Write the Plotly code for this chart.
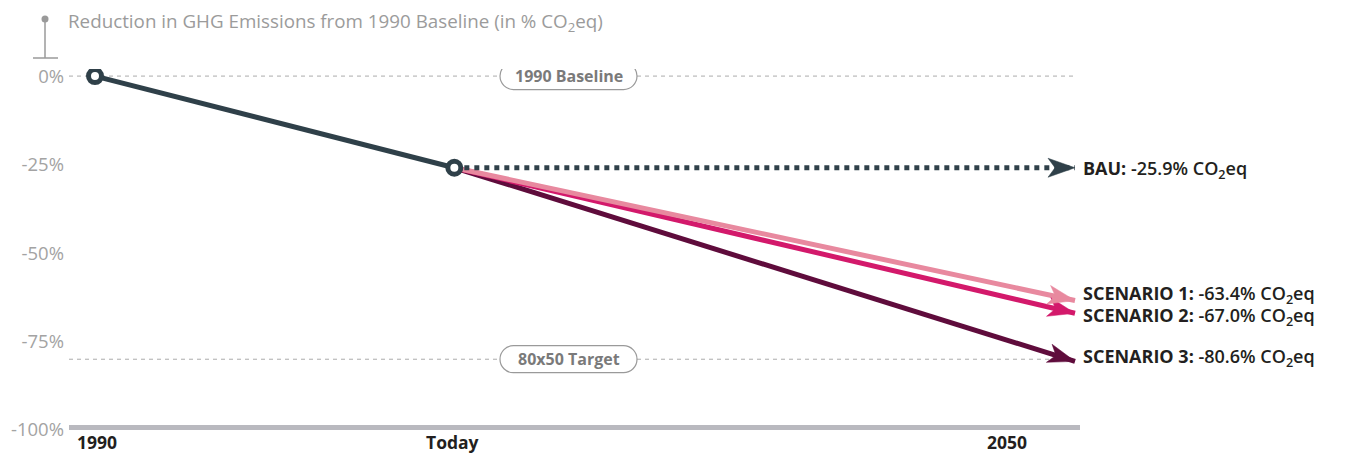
import math
import plotly.graph_objects as go

# ---- data -------------------------------------------------------------
hist_years = [1990, 2012]            # 1990 baseline and "today"
hist_values = [0.0, -25.9]           # % change in GHG emissions vs 1990
end_year = 2050

scenario_names = ["SCENARIO 3", "SCENARIO 2", "SCENARIO 1", "BAU"]
scenario_end_values = [-80.6, -67.0, -63.4, -25.9]
scenario_colors = ["#5f0c3c", "#d3196b", "#e8899f", "#2f4049"]
scenario_dash = ["solid", "solid", "solid", "dot"]

x_tick_years = [1990, 2012, 2050]
x_tick_labels = ["1990", "Today", "2050"]

y_tick_values = [0, -25, -50, -75, -100]
y_tick_labels = ["0%", "-25%", "-50%", "-75%", "-100%"]

reference_levels = [0, -80]
reference_names = ["1990 Baseline", "80x50 Target"]

# ---- layout geometry ----------------------------------------------------
W, H = 1354, 455
ML, MR, MT, MB = 69, 274, 69, 25
PW, PH = W - ML - MR, H - MT - MB
Y_RANGE = [-100, 2]
FONT = "Open Sans"
DARK = "#2f4049"
GREY_TXT = "#9b9b9b"

k_year = (1075 - 95) / (end_year - hist_years[0])     # px per year
x_range = [hist_years[0] - (95 - ML) / k_year,
           hist_years[0] + (ML + PW - 95) / k_year]
k_pct = PH / (Y_RANGE[1] - Y_RANGE[0])                 # px per percentage point


def px_x(px):
    return (px - ML) / PW


def px_y(py):
    return (H - MB - py) / PH


fig = go.Figure()

today_year, today_val = hist_years[-1], hist_values[-1]

# scenario lines (from today to 2050)
for name, v, c, d in zip(scenario_names, scenario_end_values, scenario_colors, scenario_dash):
    fig.add_trace(go.Scatter(
        x=[today_year, end_year], y=[today_val, v], mode="lines", name=name,
        line=dict(color=c, width=5, dash=d, backoff=14), hoverinfo="skip",
        showlegend=False,
    ))

# historic line 1990 -> today
fig.add_trace(go.Scatter(
    x=hist_years, y=hist_values, mode="lines+markers",
    line=dict(color=DARK, width=5),
    marker=dict(size=13, color="white", line=dict(color=DARK, width=5)),
    hoverinfo="skip", showlegend=False,
))

shapes = []
annotations = []

# dashed reference lines with pill labels
pill_w, pill_h = 68.5, 13.5
kk = 0.5523 * pill_h
s = pill_w - pill_h
pill_path = (
    f"M {-s},{-pill_h} L {s},{-pill_h} "
    f"C {s + kk},{-pill_h} {pill_w},{-kk} {pill_w},0 "
    f"C {pill_w},{kk} {s + kk},{pill_h} {s},{pill_h} "
    f"L {-s},{pill_h} "
    f"C {-s - kk},{pill_h} {-pill_w},{kk} {-pill_w},0 "
    f"C {-pill_w},{-kk} {-s - kk},{-pill_h} {-s},{-pill_h} Z"
)
pill_cx = px_x(568.5)
for lvl, name in zip(reference_levels, reference_names):
    shapes.append(dict(
        type="line", xref="paper", yref="y", x0=0, x1=px_x(1075), y0=lvl, y1=lvl,
        line=dict(color="#ababab", width=1, dash="4px,4px"), layer="below",
    ))
    shapes.append(dict(
        type="path", xref="paper", yref="y", xsizemode="pixel", ysizemode="pixel",
        xanchor=pill_cx, yanchor=lvl, path=pill_path,
        fillcolor="white", line=dict(color="#9a9a9a", width=1.2), layer="above",
    ))
    annotations.append(dict(
        x=pill_cx, xref="paper", y=lvl, yref="y", text=f"<b>{name}</b>", showarrow=False,
        font=dict(family=FONT, size=16, color="#7a7a7a"),
        xanchor="center", yanchor="middle",
    ))

# bottom axis bar
shapes.append(dict(
    type="line", xref="paper", yref="y", x0=0, x1=1, y0=-99.3, y1=-99.3,
    line=dict(color="#b9b9bf", width=5), layer="below",
))

# title pin icon
shapes.append(dict(type="line", xref="paper", yref="paper",
                   x0=px_x(45), x1=px_x(45), y0=px_y(19), y1=px_y(58),
                   line=dict(color="#9a9a9a", width=1.5)))
shapes.append(dict(type="line", xref="paper", yref="paper",
                   x0=px_x(33), x1=px_x(58), y0=px_y(58), y1=px_y(58),
                   line=dict(color="#9a9a9a", width=1.5)))
shapes.append(dict(type="circle", xref="paper", yref="paper",
                   x0=px_x(41.5), x1=px_x(48.5), y0=px_y(15.5), y1=px_y(22.5),
                   fillcolor="#9a9a9a", line=dict(width=0)))

annotations.append(dict(
    x=px_x(66), xref="paper", y=px_y(22), yref="paper", xanchor="left", yanchor="middle",
    text="Reduction in GHG Emissions from 1990 Baseline (in % CO<sub>2</sub>eq)",
    showarrow=False, font=dict(family=FONT, size=18.8, color=GREY_TXT, weight=400),
))

# notched arrow head, tip at origin pointing along +x (pixel units)
head_pts = [(0, 0), (-27, 9.5), (-20, 0), (-27, -9.5)]

# arrow heads and end labels
label_shift = {"BAU": -2, "SCENARIO 1": 6, "SCENARIO 2": -3, "SCENARIO 3": 4}
for name, v, c in zip(scenario_names, scenario_end_values, scenario_colors):
    ang = math.atan2((v - today_val) * k_pct, (end_year - today_year) * k_year)
    ca, sa = math.cos(ang), math.sin(ang)
    pts = [(px * ca - py * sa, px * sa + py * ca) for px, py in head_pts]
    path = "M " + " L ".join(f"{px:.2f},{py:.2f}" for px, py in pts) + " Z"
    shapes.append(dict(
        type="path", xref="x", yref="y", xsizemode="pixel", ysizemode="pixel",
        xanchor=end_year, yanchor=v, path=path,
        fillcolor=c, line=dict(color=c, width=0.5), layer="above",
    ))
    annotations.append(dict(
        x=end_year, y=v, xref="x", yref="y", xanchor="left", yanchor="middle",
        xshift=6, yshift=label_shift[name], showarrow=False,
        text=f"<b>{name}:</b> {v:.1f}% CO<sub>2</sub>eq",
        font=dict(family=FONT, size=18, color="#231f20", weight=600),
    ))

# x tick labels
x_label_shift = [2, -2, -46]
x_label_anchor = ["center", "center", "right"]
for yr, lab, sh, anc in zip(x_tick_years, x_tick_labels, x_label_shift, x_label_anchor):
    annotations.append(dict(
        x=yr, xref="x", y=0, yref="paper", yanchor="top", xanchor=anc,
        xshift=sh, yshift=2, text=f"<b>{lab}</b>", showarrow=False,
        font=dict(family=FONT, size=17.5, color="#231f20"),
    ))

fig.update_layout(
    width=W, height=H,
    margin=dict(l=ML, r=MR, t=MT, b=MB),
    paper_bgcolor="white", plot_bgcolor="white",
    xaxis=dict(range=x_range, showgrid=False, zeroline=False, showline=False,
               showticklabels=False, ticks=""),
    yaxis=dict(range=Y_RANGE, showgrid=False, zeroline=False, showline=False,
               tickvals=y_tick_values, ticktext=y_tick_labels, ticks="",
               ticklabelstandoff=4,
               tickfont=dict(family=FONT, size=18.5, color="#a3a3a3", weight=400)),
    shapes=shapes, annotations=annotations,
    showlegend=False,
)

fig.write_html("out.html")
